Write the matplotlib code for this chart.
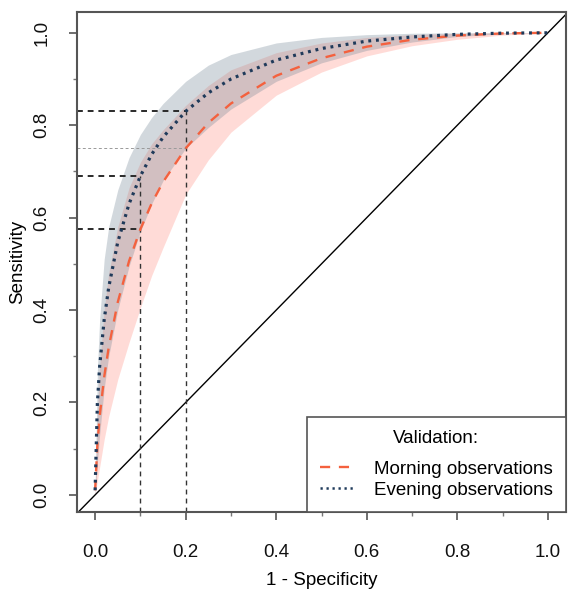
import matplotlib
matplotlib.use('Agg')
import matplotlib.pyplot as plt
from matplotlib.ticker import MultipleLocator
from matplotlib.lines import Line2D

plt.rcParams['font.family'] = ['Liberation Sans', 'DejaVu Sans']

# 1 - specificity grid and curves
fpr = [0, 0.005, 0.01, 0.02, 0.03, 0.05, 0.075, 0.1, 0.125, 0.15,
       0.2, 0.25, 0.3, 0.4, 0.5, 0.6, 0.7, 0.8, 0.9, 1.0]

morning = [0.01, 0.108, 0.169, 0.255, 0.319, 0.417, 0.506, 0.575, 0.631, 0.677,
           0.75, 0.805, 0.847, 0.907, 0.945, 0.970, 0.985, 0.994, 0.9987, 1.0]
morning_lo = [0.0, 0.03, 0.06, 0.12, 0.17, 0.25, 0.33, 0.405, 0.475, 0.535,
              0.65, 0.725, 0.785, 0.865, 0.915, 0.95, 0.972, 0.986, 0.995, 1.0]
morning_hi = [0.01, 0.17, 0.28, 0.40, 0.48, 0.58, 0.665, 0.72, 0.76, 0.79,
              0.843, 0.886, 0.92, 0.957, 0.978, 0.99, 0.996, 0.999, 1.0, 1.0]

evening = [0.01, 0.198, 0.278, 0.379, 0.449, 0.547, 0.630, 0.69, 0.737, 0.774,
           0.83, 0.870, 0.900, 0.941, 0.966, 0.982, 0.991, 0.9966, 0.9992, 1.0]
evening_lo = [0.0, 0.07, 0.13, 0.23, 0.30, 0.40, 0.495, 0.57, 0.63, 0.68,
              0.75, 0.795, 0.835, 0.895, 0.935, 0.962, 0.98, 0.992, 0.998, 1.0]
evening_hi = [0.02, 0.27, 0.38, 0.51, 0.58, 0.66, 0.73, 0.78, 0.817, 0.847,
              0.895, 0.93, 0.953, 0.978, 0.99, 0.996, 0.999, 1.0, 1.0, 1.0]

# cut-off points marked with guide lines
cut_x = [0.1, 0.1, 0.2, 0.2]
cut_y = [0.575, 0.69, 0.75, 0.83]

fig = plt.figure(figsize=(5.68, 5.97), dpi=100)
ax = fig.add_axes([77/568, 85/597, 489/568, 500/597])

xmin, xmax = -0.04, 1.04
ymin, ymax = -0.037, 1.045

ax.fill_between(fpr, morning_lo, morning_hi, color='#ff8a7d', alpha=0.3, lw=0)
ax.fill_between(fpr, evening_lo, evening_hi, color='#6c8091', alpha=0.3, lw=0)

ax.axline((0, 0), slope=1, color='black', lw=1)

# guide lines to the cut-off points
for cx, cy in zip(cut_x, cut_y):
    thin = cy == 0.75
    ax.plot([xmin, cx], [cy, cy], color='#999999' if thin else '#2a2a2a',
            lw=0.7 if thin else 1.4, ls=(0, (3, 2.5)))
for cx in [0.1, 0.2]:
    top = max(y for x, y in zip(cut_x, cut_y) if x == cx)
    ax.plot([cx, cx], [ymin, top], color='#333333', lw=1.0, ls=(0, (3.5, 3)))

ax.plot(fpr, morning, color='#f4613e', lw=1.7, ls=(0, (4.3, 3.7)))
ax.plot(fpr, evening, color='#1f3a5a', lw=2.3, ls=(0, (0.9, 1.5)))

ax.set_xlim(xmin, xmax)
ax.set_ylim(ymin, ymax)
ax.xaxis.set_major_locator(MultipleLocator(0.2))
ax.yaxis.set_major_locator(MultipleLocator(0.2))
ax.xaxis.set_minor_locator(MultipleLocator(0.1))
ax.yaxis.set_minor_locator(MultipleLocator(0.1))
ax.xaxis.set_major_formatter(plt.FuncFormatter(lambda v, p: f'{v:.1f}'))
ax.yaxis.set_major_formatter(plt.FuncFormatter(lambda v, p: f'{v:.1f}'))

ax.tick_params(which='major', direction='out', length=6, width=1.2,
               color='#555555', labelsize=13.5, labelcolor='#111111')
ax.tick_params(which='minor', direction='out', length=3, width=1.0, color='#777777')
ax.tick_params(axis='x', which='major', pad=17)
ax.tick_params(axis='y', which='major', pad=13, labelrotation=90)
for t in ax.get_yticklabels():
    t.set_va('center')

for s in ax.spines.values():
    s.set_color('#555555')
    s.set_linewidth(1.5)

ax.set_ylabel('Sensitivity', fontsize=13.5)
ax.yaxis.set_label_coords(-0.105, 0.5)
ax.set_xlabel('1 - Specificity', fontsize=13.5)
ax.xaxis.set_label_coords(0.5, -0.12)

handles = [Line2D([], [], color='#f4613e', lw=1.7, ls=(0, (4.3, 3.7))),
           Line2D([], [], color='#1f3a5a', lw=1.8, ls=(0, (0.9, 1.5)))]
leg = ax.legend(handles, ['Morning observations', 'Evening observations'],
                title='Validation:', loc='lower right', bbox_to_anchor=(1, 0),
                borderaxespad=0, fancybox=False, edgecolor='#555555',
                framealpha=1, fontsize=13.5, title_fontsize=13.5,
                handlelength=1.8, handletextpad=1.1, borderpad=0.7,
                labelspacing=0.2)
leg.get_frame().set_linewidth(1.2)
leg._legend_box.sep = 10

fig.savefig('out.png', dpi=100)
